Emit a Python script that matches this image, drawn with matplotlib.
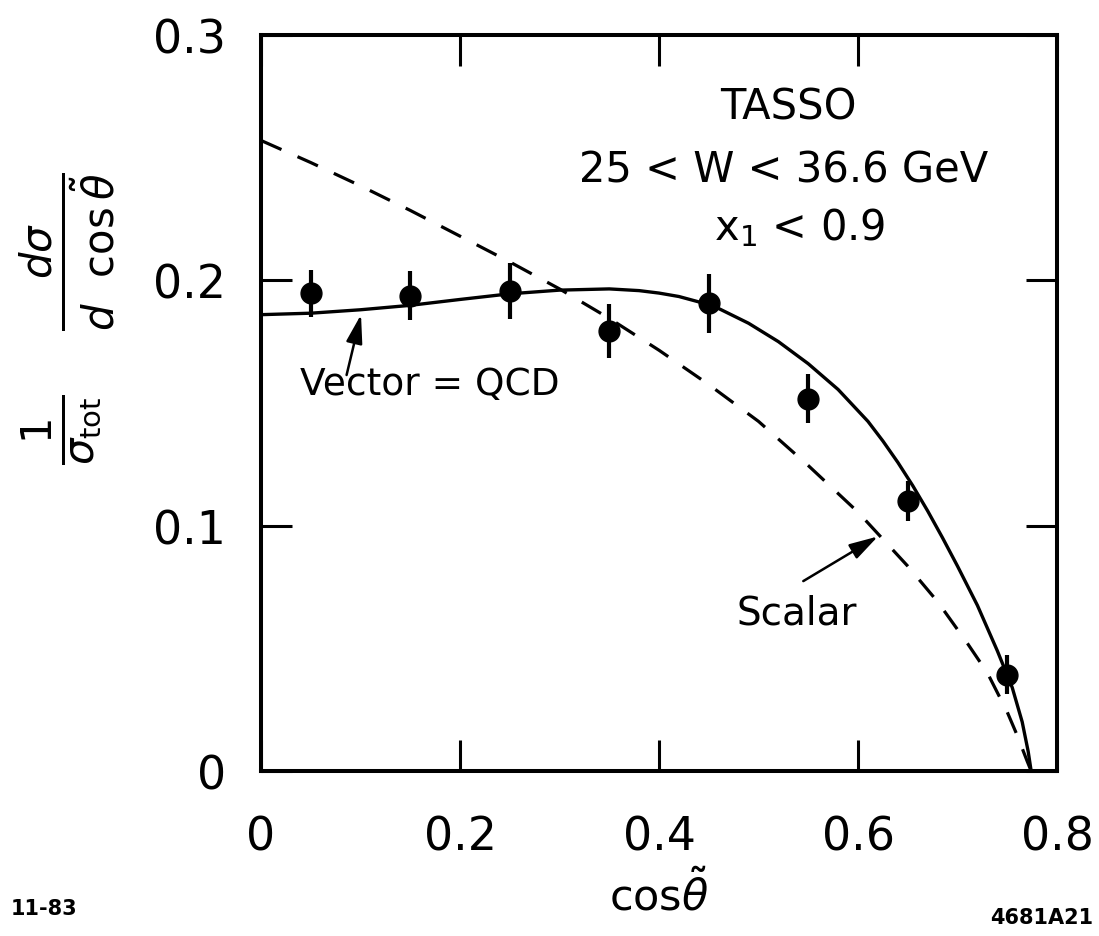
import matplotlib
matplotlib.use("Agg")
import matplotlib.pyplot as plt

# TASSO data points (cos theta~ bin centres, normalised distribution, errors)
cos_theta = [0.05, 0.15, 0.25, 0.35, 0.45, 0.55, 0.65, 0.75]
dist = [0.1947, 0.1938, 0.1957, 0.1792, 0.1907, 0.1517, 0.110, 0.0393]
dist_err = [0.0095, 0.0098, 0.0115, 0.011, 0.012, 0.010, 0.008, 0.008]

# Vector (= QCD) curve
vector_x = [0.0, 0.05, 0.10, 0.15, 0.20, 0.25, 0.30, 0.35, 0.38, 0.40, 0.42,
            0.44, 0.46, 0.49, 0.52, 0.55, 0.58, 0.61, 0.625, 0.64, 0.655, 0.67,
            0.685, 0.70, 0.72, 0.74, 0.755, 0.765, 0.771, 0.774]
vector_y = [0.186, 0.1866, 0.188, 0.1898, 0.1922, 0.1945, 0.196, 0.1965, 0.1958,
            0.1948, 0.1934, 0.1912, 0.1885, 0.1825, 0.175, 0.166, 0.1555,
            0.1425, 0.1345, 0.1258, 0.1163, 0.106, 0.095, 0.0835, 0.0675,
            0.049, 0.034, 0.020, 0.008, 0.0]

# Scalar gluon curve
scalar_x = [0.0, 0.05, 0.10, 0.15, 0.20, 0.25, 0.30, 0.35, 0.40, 0.45, 0.50,
            0.55, 0.60, 0.65, 0.68, 0.71, 0.73, 0.75, 0.76, 0.77, 0.774]
scalar_y = [0.257, 0.248, 0.2385, 0.2285, 0.218, 0.2075, 0.1965, 0.1845,
            0.1715, 0.1575, 0.1425, 0.1245, 0.1055, 0.0835, 0.069, 0.052,
            0.040, 0.024, 0.0145, 0.004, 0.0]

x_ticks = [0, 0.2, 0.4, 0.6, 0.8]
x_tick_labels = ["0", "0.2", "0.4", "0.6", "0.8"]
y_ticks = [0, 0.1, 0.2, 0.3]
y_tick_labels = ["0", "0.1", "0.2", "0.3"]

plt.rcParams["font.family"] = ["DejaVu Sans"]
plt.rcParams["mathtext.fontset"] = "dejavusans"

fig = plt.figure(figsize=(10.99, 9.37), dpi=100)
ax = fig.add_axes([0.2375, 0.1761, 0.7243, 0.7855])

ax.plot(vector_x, vector_y, color="black", lw=2.4)
ax.plot(scalar_x, scalar_y, color="black", lw=2.3, dashes=(7, 5.5))
ax.errorbar(cos_theta, dist, yerr=dist_err, fmt="o", color="black",
            markersize=15, elinewidth=3, capsize=0)

ax.set_xlim(0, 0.8)
ax.set_ylim(0, 0.3)
ax.set_xticks(x_ticks)
ax.set_xticklabels(x_tick_labels)
ax.set_yticks(y_ticks)
ax.set_yticklabels(y_tick_labels)
ax.tick_params(direction="in", length=22, width=2.2, labelsize=33,
               top=True, right=True)
ax.tick_params(axis="x", pad=31)
ax.tick_params(axis="y", pad=25)
for s in ax.spines.values():
    s.set_linewidth(2.9)

ax.text(0.53, 0.271, "TASSO", fontsize=30, ha="center", va="center")
ax.text(0.525, 0.245, "25 < W < 36.6 GeV", fontsize=30, ha="center", va="center")
ax.text(0.541, 0.222, r"x$_1$ < 0.9", fontsize=30, ha="center", va="center")

arrow = dict(arrowstyle="-|>,head_length=0.7,head_width=0.2", color="black",
             lw=1.8, mutation_scale=25, shrinkA=0, shrinkB=0)
ax.annotate("", xy=(0.1005, 0.186), xytext=(0.086, 0.1614), arrowprops=arrow)
ax.text(0.17, 0.1576, "Vector = QCD", fontsize=27, ha="center", va="center")
ax.annotate("", xy=(0.620, 0.0956), xytext=(0.545, 0.0774), arrowprops=arrow)
ax.text(0.538, 0.0647, "Scalar", fontsize=28, ha="center", va="center")

fig.text(0.6, 0.045, r"cos$\tilde{\theta}$", fontsize=31, ha="center", va="center")
fig.text(0.062, 0.66,
         r"$\frac{1}{\sigma_{\rm tot}}\quad\frac{d\sigma}{d\ \ \cos\tilde{\theta}}$",
         fontsize=43, rotation=90, ha="center", va="center")
fig.text(0.01, 0.03, "11-83", fontsize=15, fontweight="bold", ha="left", va="center")
fig.text(0.995, 0.02, "4681A21", fontsize=15, fontweight="bold", ha="right", va="center")

fig.savefig("out.png", dpi=100)
